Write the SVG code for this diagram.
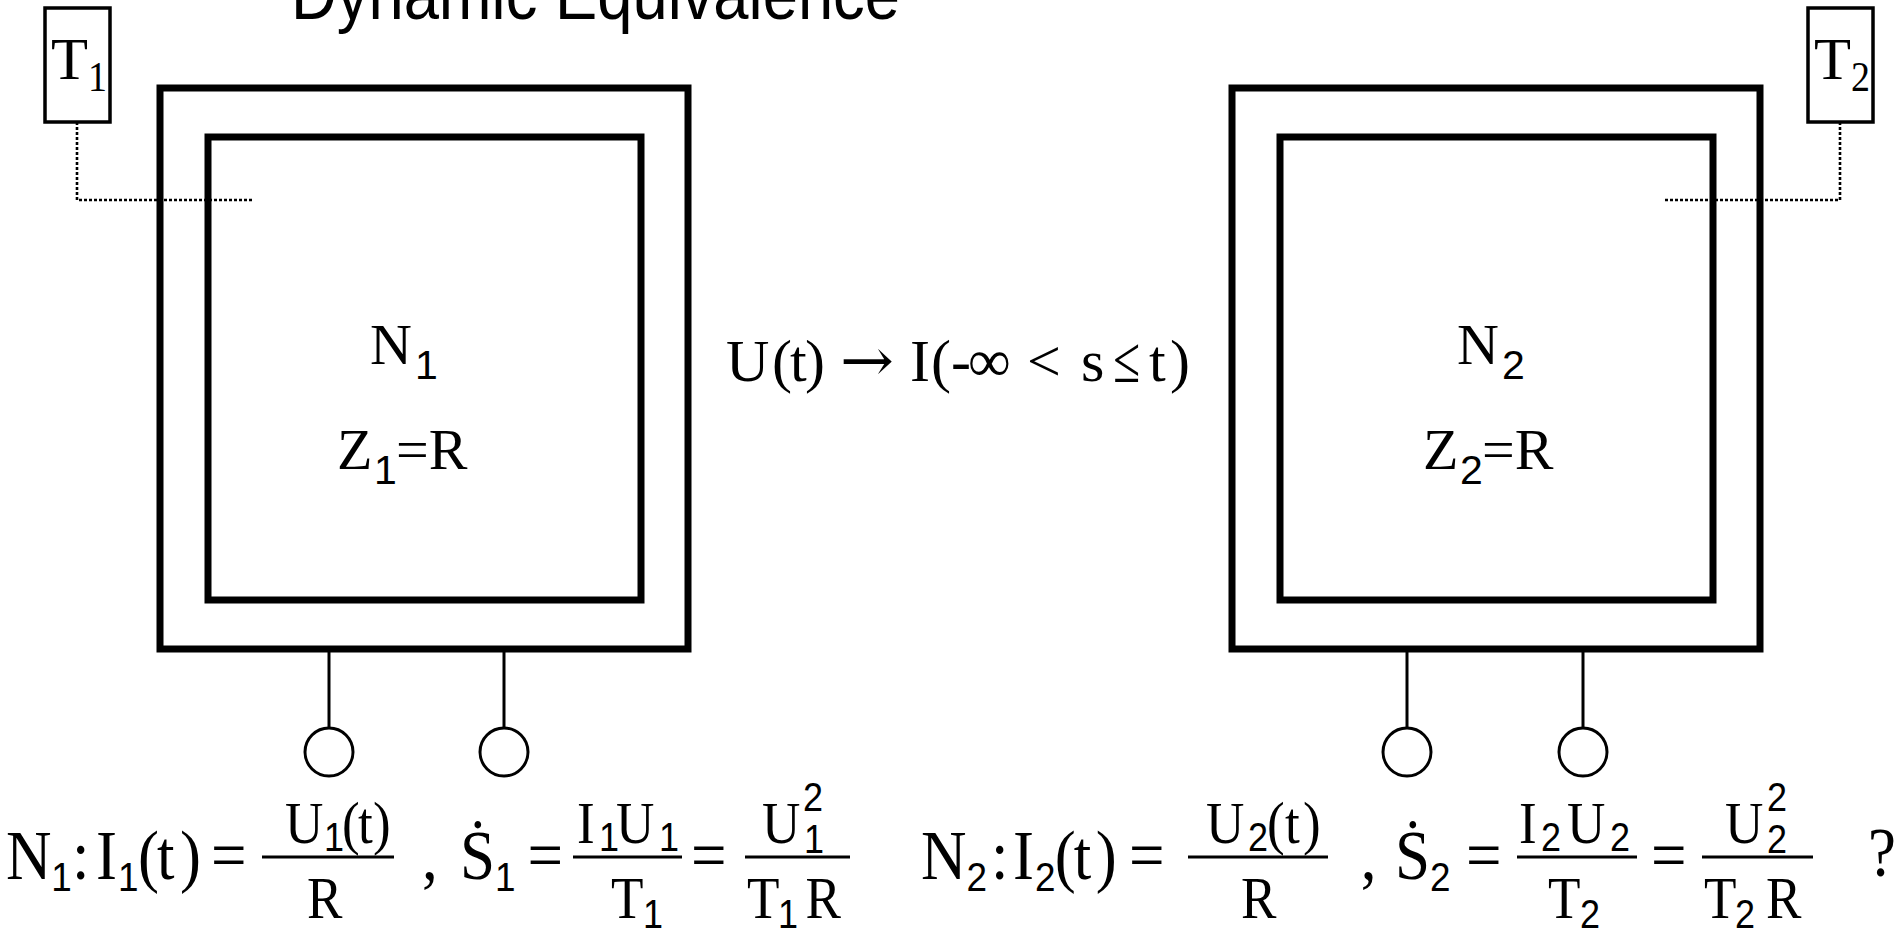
<svg xmlns="http://www.w3.org/2000/svg" width="1895" height="937" viewBox="0 0 1895 937">
<style>
.bg{fill:#fff}
.box{fill:none;stroke:#000;stroke-width:7}
.tbox{fill:#fff;stroke:#000;stroke-width:3.5}
.dot{fill:none;stroke:#000;stroke-width:2.6;stroke-dasharray:3 2}
.stem{stroke:#000;stroke-width:3}
.term{fill:#fff;stroke:#000;stroke-width:3}
.fl{stroke:#000;stroke-width:3}
.tm{font-family:"Liberation Serif","DejaVu Serif",serif;fill:#000}
.sf{font-family:"Liberation Sans","DejaVu Sans",sans-serif;fill:#000}
.ar{font-family:"DejaVu Serif","Liberation Serif",serif;fill:#000}
.big{font-size:70px}
.mid{font-size:59px}
.lab{font-size:58px}
.rel{font-size:60px}
.sub{font-size:41px}
.sub2{font-size:40px}
</style>
<rect class="bg" x="0" y="0" width="1895" height="937"/>
<text id="title" class="sf" x="291" y="19" font-size="70" textLength="609" lengthAdjust="spacingAndGlyphs">Dynamic Equivalence</text>

<g id="connectors">
  <polyline class="dot" points="77,122 77,200 253,200"/>
  <polyline class="dot" points="1840,122 1840,200 1665,200"/>
  <line class="stem" x1="329" y1="649" x2="329" y2="728"/>
  <line class="stem" x1="504" y1="649" x2="504" y2="728"/>
  <line class="stem" x1="1407" y1="649" x2="1407" y2="728"/>
  <line class="stem" x1="1583" y1="649" x2="1583" y2="728"/>
</g>

<g id="N1">
  <rect class="box" x="160" y="88" width="528" height="561"/>
  <rect class="box" x="208" y="137" width="433" height="463"/>
  <text class="tm lab" x="370" y="364">N</text>
  <text class="sf sub" x="415" y="379">1</text>
  <text class="tm lab" x="337" y="469">Z</text>
  <text class="sf sub" x="374" y="484">1</text>
  <text class="tm lab" x="396" y="469">=R</text>
</g>

<g id="N2">
  <rect class="box" x="1232" y="88" width="528" height="561"/>
  <rect class="box" x="1280" y="137" width="433" height="463"/>
  <text class="tm lab" x="1457" y="364">N</text>
  <text class="sf sub" x="1502" y="379">2</text>
  <text class="tm lab" x="1423" y="469">Z</text>
  <text class="sf sub" x="1460" y="484">2</text>
  <text class="tm lab" x="1482" y="469">=R</text>
</g>

<g id="T1">
  <rect class="tbox" x="45" y="8" width="65" height="114"/>
  <text class="tm" font-size="60" x="51" y="79" textLength="37" lengthAdjust="spacingAndGlyphs">T</text>
  <text class="tm" font-size="42" x="88" y="91" textLength="19" lengthAdjust="spacingAndGlyphs">1</text>
</g>
<g id="T2">
  <rect class="tbox" x="1808" y="8" width="65" height="114"/>
  <text class="tm" font-size="60" x="1814" y="79" textLength="37" lengthAdjust="spacingAndGlyphs">T</text>
  <text class="tm" font-size="42" x="1851" y="91" textLength="19" lengthAdjust="spacingAndGlyphs">2</text>
</g>

<g id="terminals">
  <circle class="term" cx="329" cy="752" r="24"/>
  <circle class="term" cx="504" cy="752" r="24"/>
  <circle class="term" cx="1407" cy="752" r="24"/>
  <circle class="term" cx="1583" cy="752" r="24"/>
</g>

<g id="relation">
  <text class="tm rel" y="381"><tspan x="726">U</tspan><tspan x="772">(</tspan><tspan x="790">t</tspan><tspan x="805">)</tspan><tspan x="910">I</tspan><tspan x="931">(</tspan><tspan x="951">-</tspan><tspan x="968">∞</tspan><tspan x="1027">&lt;</tspan><tspan x="1081">s</tspan><tspan x="1149">t</tspan><tspan x="1170">)</tspan></text>
  <text class="tm" font-size="66" x="1113" y="382" textLength="27" lengthAdjust="spacingAndGlyphs">≤</text>
  <text class="ar rel" x="840" y="381" textLength="54" lengthAdjust="spacingAndGlyphs">→</text>
</g>

<g id="fraction-lines">
  <line class="fl" x1="262" y1="857" x2="394" y2="857"/>
  <line class="fl" x1="573" y1="857" x2="682" y2="857"/>
  <line class="fl" x1="745" y1="857" x2="850" y2="857"/>
  <line class="fl" x1="1188" y1="857" x2="1328" y2="857"/>
  <line class="fl" x1="1517" y1="857" x2="1637" y2="857"/>
  <line class="fl" x1="1702" y1="857" x2="1813" y2="857"/>
</g>

<g id="equation1" transform="scale(0.9,1)">
  <text class="tm big" y="879"><tspan x="6.7">N</tspan><tspan x="80">:</tspan><tspan x="106.7">I</tspan><tspan x="153.3">(</tspan><tspan x="174.4">t</tspan><tspan x="200">)</tspan><tspan x="234.4">=</tspan></text>
  <text class="sf sub" y="891"><tspan x="57">1</tspan><tspan x="131">1</tspan></text>
  <text class="tm mid" y="843"><tspan x="316.7">U</tspan><tspan x="380">(</tspan><tspan x="397.8">t</tspan><tspan x="414.4">)</tspan></text>
  <text class="sf sub2" x="360" y="851">1</text>
  <text class="tm mid" x="341.1" y="918">R</text>
  <text class="tm big" x="468.9" y="879">,</text>
  <text class="tm big" x="511.1" y="879">Ṡ</text>
  <text class="sf sub" x="550" y="891">1</text>
  <text class="tm big" x="586" y="879">=</text>
  <text class="tm mid" y="843"><tspan x="641.1">I</tspan><tspan x="684.4">U</tspan></text>
  <text class="sf sub2" y="851"><tspan x="665.6">1</tspan><tspan x="732.2">1</tspan></text>
  <text class="tm mid" x="678.9" y="918">T</text>
  <text class="sf sub2" x="714.4" y="928">1</text>
  <text class="tm big" x="767.8" y="879">=</text>
  <text class="tm mid" x="846.7" y="843">U</text>
  <text class="sf sub2" x="892.2" y="811">2</text>
  <text class="sf sub2" x="893.3" y="853">1</text>
  <text class="tm mid" x="830" y="918">T</text>
  <text class="sf sub2" x="864.4" y="928">1</text>
  <text class="tm mid" x="895" y="918">R</text>
</g>

<g id="equation2" transform="scale(0.9,1)">
  <text class="tm big" y="879"><tspan x="1023.3">N</tspan><tspan x="1101">:</tspan><tspan x="1125.6">I</tspan><tspan x="1172">(</tspan><tspan x="1193">t</tspan><tspan x="1217.5">)</tspan><tspan x="1254.4">=</tspan></text>
  <text class="sf sub" y="891"><tspan x="1074">2</tspan><tspan x="1150">2</tspan></text>
  <text class="tm mid" y="843"><tspan x="1340">U</tspan><tspan x="1407.8">(</tspan><tspan x="1427.8">t</tspan><tspan x="1447.8">)</tspan></text>
  <text class="sf sub2" x="1386.7" y="851">2</text>
  <text class="tm mid" x="1378.9" y="918">R</text>
  <text class="tm big" x="1512" y="879">,</text>
  <text class="tm big" x="1550" y="879">Ṡ</text>
  <text class="sf sub" x="1589" y="891">2</text>
  <text class="tm big" x="1628.9" y="879">=</text>
  <text class="tm mid" y="843"><tspan x="1687.8">I</tspan><tspan x="1741.1">U</tspan></text>
  <text class="sf sub2" y="851"><tspan x="1712.2">2</tspan><tspan x="1788.9">2</tspan></text>
  <text class="tm mid" x="1720" y="918">T</text>
  <text class="sf sub2" x="1755.6" y="928">2</text>
  <text class="tm big" x="1834.4" y="879">=</text>
  <text class="tm mid" x="1916.7" y="843">U</text>
  <text class="sf sub2" x="1963.3" y="811">2</text>
  <text class="sf sub2" x="1963.3" y="853">2</text>
  <text class="tm mid" x="1893.3" y="918">T</text>
  <text class="sf sub2" x="1927.8" y="928">2</text>
  <text class="tm mid" x="1962.2" y="918">R</text>
  <text class="tm big" x="2075.6" y="876">?</text>
</g>
</svg>
